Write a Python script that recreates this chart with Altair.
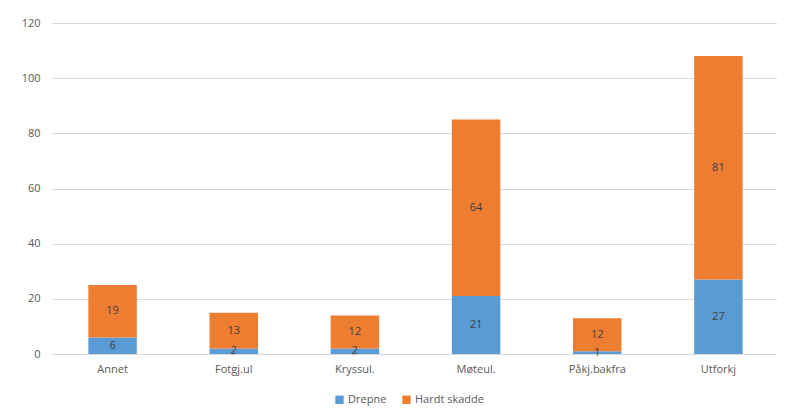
import altair as alt
import pandas as pd

categories = ["Annet", "Fotgj.ul", "Kryssul.", "Møteul.", "Påkj.bakfra", "Utforkj"]
drepne = [6, 2, 2, 21, 1, 27]
hardt_skadde = [19, 13, 12, 64, 12, 81]
series = ["Drepne", "Hardt skadde"]
colors = ["#5B9BD5", "#ED7D31"]

rows = []
for c, d, h in zip(categories, drepne, hardt_skadde):
    rows.append({"kat": c, "serie": series[0], "verdi": d, "ord": 0})
    rows.append({"kat": c, "serie": series[1], "verdi": h, "ord": 1})
df = pd.DataFrame(rows)

FONT = "Open Sans"

base = alt.Chart(df).transform_stack(
    stack="verdi", groupby=["kat"], as_=["y0", "y1"], sort=[alt.SortField("ord", order="ascending")]
).transform_calculate(mid="(datum.y0 + datum.y1) / 2")

xscale = alt.Scale(paddingInner=0.6, paddingOuter=0.3, range=[0, 727])

x = alt.X("kat:N", sort=categories, title=None, scale=xscale,
          axis=alt.Axis(labelAngle=0, ticks=False, domain=False, labelPadding=9, grid=False,
                        labelColor="#595959", labelFontSize=11, labelFont=FONT))

bars = base.mark_bar().encode(
    x=x,
    y=alt.Y("y0:Q", title=None,
            scale=alt.Scale(domain=[0, 120]),
            axis=alt.Axis(values=list(range(0, 121, 20)), ticks=False, domain=False,
                          gridColor="#d9d9d9", labelPadding=12, labelColor="#595959",
                          labelFontSize=11, labelFont=FONT)),
    y2="y1:Q",
    color=alt.Color("serie:N", scale=alt.Scale(domain=series, range=colors), title=None,
                    legend=alt.Legend(orient="none", legendX=282, legendY=371, direction="horizontal",
                                      symbolType="square", symbolSize=70, symbolStrokeWidth=0,
                                      labelFontSize=11, labelFont=FONT, labelColor="#595959",
                                      columnPadding=14, labelOffset=3)),
)

labels = base.mark_text(fontSize=11, font=FONT, color="#404040").encode(
    x=alt.X("kat:N", sort=categories),
    y=alt.Y("mid:Q"),
    text=alt.Text("verdi:Q"),
)

chart = alt.layer(bars, labels).properties(
    width=725, height=331,
    padding={"left": 44, "top": 15, "right": 0, "bottom": 52},
    autosize=alt.AutoSizeParams(type="none"),
    background="white",
).configure_view(stroke=None)

chart.save("out.html", embed_options={"renderer": "svg", "actions": False})
